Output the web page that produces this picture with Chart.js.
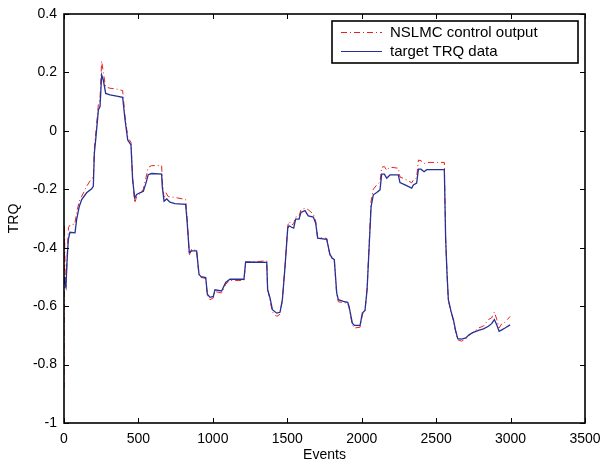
<!DOCTYPE html>
<html>
<head>
<meta charset="utf-8">
<script src="https://cdn.jsdelivr.net/npm/chart.js@4"></script>
<style>
    html, body { margin: 0; padding: 0; background: #fff; }
    #wrap { width: 603px; height: 467px; }
</style>
</head>
<body>
<div id="wrap"><canvas id="Line__canvas"></canvas></div>
<script>
// tick values
var xTicks = [0, 500, 1000, 1500, 2000, 2500, 3000, 3500];
var yTicks = [-1, -0.8, -0.6, -0.4, -0.2, 0, 0.2, 0.4];

// target TRQ data (blue)
var targetX = [0, 5, 13, 20, 29, 40, 74, 85, 103, 119, 152, 186, 197, 204, 215, 231, 242, 253, 264, 280,
    309, 354, 394, 410, 428, 450, 461, 475, 488, 510, 533, 551, 566, 589, 656, 660, 672, 690, 712, 745,
    817, 826, 842, 857, 891, 907, 920, 952, 963, 981, 1003, 1014, 1059, 1086, 1115, 1209, 1220, 1362, 1368, 1384,
    1400, 1429, 1451, 1467, 1485, 1503, 1512, 1529, 1543, 1556, 1579, 1592, 1619, 1641, 1675, 1691, 1704, 1765, 1787, 1803,
    1816, 1832, 1843, 1877, 1906, 1915, 1937, 1951, 1989, 2004, 2022, 2036, 2049, 2063, 2078, 2101, 2123, 2134, 2152, 2168,
    2190, 2246, 2257, 2291, 2336, 2347, 2369, 2381, 2398, 2419, 2437, 2555, 2564, 2573, 2582, 2600, 2616, 2632, 2645, 2672,
    2699, 2721, 2750, 2784, 2818, 2851, 2873, 2891, 2907, 2923, 2941, 2963, 2997];
var targetY = [-0.50, -0.52, -0.535, -0.45, -0.372, -0.347, -0.349, -0.303, -0.258, -0.235, -0.212, -0.198, -0.19, -0.076, -0.019, 0.072, 0.083, 0.191, 0.174, 0.128,
    0.123, 0.119, 0.115, 0.038, -0.031, -0.048, -0.167, -0.23, -0.218, -0.212, -0.207, -0.178, -0.15, -0.146, -0.148, -0.19, -0.241, -0.233, -0.244, -0.249,
    -0.252, -0.303, -0.417, -0.411, -0.411, -0.491, -0.499, -0.502, -0.559, -0.57, -0.567, -0.544, -0.548, -0.519, -0.508, -0.508, -0.449, -0.450, -0.544, -0.572,
    -0.612, -0.624, -0.621, -0.578, -0.464, -0.333, -0.325, -0.330, -0.333, -0.302, -0.302, -0.279, -0.273, -0.291, -0.295, -0.316, -0.367, -0.371, -0.424, -0.436,
    -0.441, -0.555, -0.578, -0.584, -0.587, -0.601, -0.658, -0.666, -0.666, -0.624, -0.615, -0.544, -0.407, -0.259, -0.219, -0.211, -0.202, -0.148, -0.148, -0.162,
    -0.151, -0.151, -0.177, -0.185, -0.196, -0.185, -0.179, -0.131, -0.131, -0.140, -0.133, -0.133, -0.373, -0.487, -0.578, -0.618, -0.646, -0.686, -0.711, -0.713,
    -0.709, -0.698, -0.690, -0.683, -0.678, -0.669, -0.660, -0.646, -0.664, -0.686, -0.681, -0.675, -0.664];

// NSLMC control output (red)
var nslmcX = [0, 3, 8, 13, 22, 30, 45, 72, 85, 103, 130, 152, 186, 197, 204, 215, 231, 242, 253, 264,
    280, 309, 354, 394, 410, 428, 450, 461, 475, 488, 510, 533, 551, 566, 589, 656, 660, 672, 685, 700,
    745, 817, 826, 842, 857, 891, 907, 920, 952, 963, 981, 1003, 1014, 1059, 1086, 1115, 1209, 1220, 1362, 1368,
    1384, 1400, 1429, 1451, 1467, 1485, 1503, 1512, 1529, 1543, 1556, 1579, 1592, 1619, 1641, 1675, 1691, 1704, 1765, 1787,
    1803, 1816, 1832, 1843, 1877, 1906, 1915, 1937, 1951, 1989, 2004, 2022, 2036, 2049, 2063, 2078, 2101, 2123, 2134, 2152,
    2168, 2190, 2246, 2257, 2291, 2336, 2347, 2369, 2381, 2398, 2419, 2437, 2555, 2564, 2573, 2582, 2600, 2616, 2632, 2645,
    2672, 2699, 2721, 2750, 2784, 2818, 2851, 2873, 2891, 2907, 2923, 2941, 2963, 2997];
var nslmcY = [-0.88, -0.32, -0.50, -0.54, -0.42, -0.33, -0.32, -0.32, -0.28, -0.24, -0.213, -0.19, -0.162, -0.16, -0.06, 0.0, 0.09, 0.11, 0.239, 0.20,
    0.15, 0.146, 0.143, 0.138, 0.05, -0.02, -0.04, -0.16, -0.247, -0.225, -0.215, -0.20, -0.16, -0.125, -0.119, -0.119, -0.17, -0.232, -0.212, -0.225,
    -0.228, -0.235, -0.29, -0.425, -0.405, -0.41, -0.495, -0.502, -0.505, -0.565, -0.578, -0.572, -0.55, -0.555, -0.525, -0.512, -0.512, -0.45, -0.445, -0.54,
    -0.58, -0.62, -0.635, -0.628, -0.58, -0.46, -0.325, -0.31, -0.322, -0.318, -0.295, -0.292, -0.27, -0.265, -0.27, -0.285, -0.31, -0.365, -0.368, -0.428,
    -0.44, -0.445, -0.56, -0.585, -0.588, -0.59, -0.605, -0.665, -0.675, -0.672, -0.63, -0.615, -0.54, -0.4, -0.24, -0.2, -0.185, -0.175, -0.125, -0.122,
    -0.135, -0.124, -0.128, -0.158, -0.165, -0.178, -0.168, -0.16, -0.10, -0.102, -0.112, -0.108, -0.108, -0.37, -0.49, -0.58, -0.62, -0.65, -0.69, -0.715,
    -0.72, -0.712, -0.70, -0.688, -0.675, -0.668, -0.646, -0.64, -0.62, -0.645, -0.675, -0.66, -0.655, -0.635];

var seriesNames = ['NSLMC control output', 'target TRQ data'];

var RED = 'rgb(235, 30, 30)';
var BLUE = 'rgb(38, 48, 150)';
var FONT = '"Liberation Sans", Arial, Helvetica, sans-serif';

function toPoints(xs, ys) {
    var pts = [];
    for (var i = 0; i < xs.length; i++) {
        pts.push({ x: xs[i], y: ys[i] });
    }
    return pts;
}

// frame, inward ticks on all four sides, and the boxed legend
var matlabFrame = {
    id: 'matlabFrame',
    afterDraw: function (chart) {
        var ctx = chart.ctx;
        var a = chart.chartArea;
        var xs = chart.scales.x, ys = chart.scales.y;
        var tl = 5;
        ctx.save();
        ctx.strokeStyle = '#000';
        ctx.lineWidth = 1;
        ctx.beginPath();
        xTicks.forEach(function (v) {
            var px = Math.round(xs.getPixelForValue(v)) + 0.5;
            ctx.moveTo(px, a.bottom); ctx.lineTo(px, a.bottom - tl);
            ctx.moveTo(px, a.top); ctx.lineTo(px, a.top + tl);
        });
        yTicks.forEach(function (v) {
            var py = Math.round(ys.getPixelForValue(v)) + 0.5;
            ctx.moveTo(a.left, py); ctx.lineTo(a.left + tl, py);
            ctx.moveTo(a.right, py); ctx.lineTo(a.right - tl, py);
        });
        ctx.stroke();
        ctx.lineWidth = 1.6;
        ctx.strokeRect(a.left, a.top, a.right - a.left, a.bottom - a.top);

        // legend
        var bw = 246, bh = 42;
        var bx = a.right - 7 - bw, by = a.top + 7;
        ctx.fillStyle = '#fff';
        ctx.fillRect(bx, by, bw, bh);
        ctx.lineWidth = 1.6;
        ctx.strokeRect(bx, by, bw, bh);
        var rows = [
            { name: seriesNames[0], color: RED, dash: [6, 3, 1, 3], w: 1 },
            { name: seriesNames[1], color: BLUE, dash: [], w: 1.2 }
        ];
        ctx.font = '15px ' + FONT;
        ctx.textBaseline = 'middle';
        rows.forEach(function (r, i) {
            var cy = by + 11.5 + i * 19;
            ctx.strokeStyle = r.color;
            ctx.lineWidth = r.w;
            ctx.setLineDash(r.dash);
            ctx.beginPath();
            ctx.moveTo(bx + 9, cy); ctx.lineTo(bx + 50, cy);
            ctx.stroke();
            ctx.setLineDash([]);
            ctx.fillStyle = '#000';
            ctx.fillText(r.name, bx + 58, cy);
        });
        ctx.restore();
    }
};

function Line_Status_1() {
    var ctr = document.getElementById('Line__canvas');
    var line = new Chart(ctr, {
        type: 'line',
        data: {
            datasets: [{
                label: seriesNames[0],
                data: toPoints(nslmcX, nslmcY),
                borderColor: RED,
                borderWidth: 1,
                borderDash: [6, 3, 1, 3],
                pointRadius: 0,
                fill: false,
                order: 2
            }, {
                label: seriesNames[1],
                data: toPoints(targetX, targetY),
                borderColor: BLUE,
                borderWidth: 1.3,
                pointRadius: 0,
                fill: false,
                order: 1
            }]
        },
        options: {
            responsive: true,
            maintainAspectRatio: false,
            animation: false,
            events: [],
            layout: { padding: { left: 0, top: 14, right: 18, bottom: 0 } },
            plugins: {
                legend: { display: false },
                tooltip: { enabled: false }
            },
            scales: {
                x: {
                    type: 'linear',
                    min: 0,
                    max: 3500,
                    afterBuildTicks: function (s) { s.ticks = xTicks.map(function (v) { return { value: v }; }); },
                    afterFit: function (s) {
                        s.height = 44;
                        // keep the edge labels from squeezing the plot
                        s.paddingLeft = 0;
                        s.paddingRight = 0;
                    },
                    grid: { display: false, drawTicks: false },
                    border: { display: false },
                    ticks: {
                        color: '#000',
                        padding: 8,
                        maxRotation: 0,
                        font: { family: FONT, size: 14 },
                        callback: function (v) { return String(v); }
                    },
                    title: {
                        display: true,
                        text: 'Events',
                        color: '#000',
                        padding: { top: 0, bottom: 3 },
                        font: { family: FONT, size: 14 }
                    }
                },
                y: {
                    type: 'linear',
                    min: -1,
                    max: 0.4,
                    afterBuildTicks: function (s) { s.ticks = yTicks.map(function (v) { return { value: v }; }); },
                    afterFit: function (s) {
                        s.width = 64;
                        s.paddingTop = 0;
                        s.paddingBottom = 0;
                    },
                    grid: { display: false, drawTicks: false },
                    border: { display: false },
                    ticks: {
                        color: '#000',
                        padding: 7,
                        font: { family: FONT, size: 14 },
                        callback: function (v) { return String(Math.round(v * 10) / 10); }
                    },
                    title: {
                        display: true,
                        text: 'TRQ',
                        color: '#000',
                        padding: { top: 6, bottom: 0 },
                        font: { family: FONT, size: 14 }
                    }
                }
            }
        },
        plugins: [matlabFrame]
    });
}

Line_Status_1();
</script>
</body>
</html>
